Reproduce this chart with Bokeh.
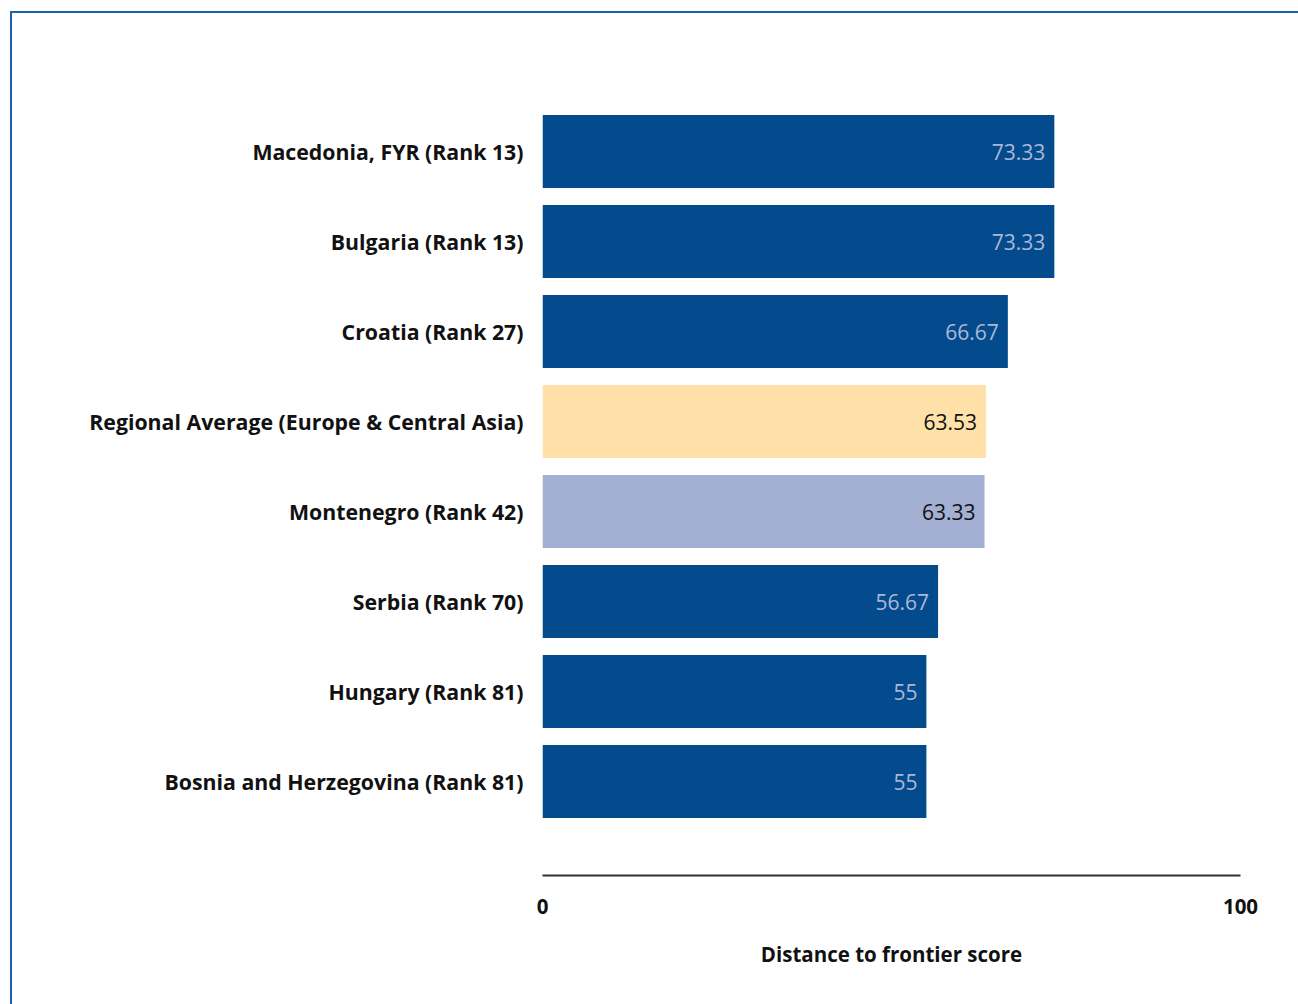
from bokeh.plotting import figure
from bokeh.models import Range1d, FixedTicker, ColumnDataSource
from bokeh.core.properties import value
from bokeh.embed import file_html
from bokeh.resources import INLINE

categories = [
    "Macedonia, FYR (Rank 13)",
    "Bulgaria (Rank 13)",
    "Croatia (Rank 27)",
    "Regional Average (Europe & Central Asia)",
    "Montenegro (Rank 42)",
    "Serbia (Rank 70)",
    "Hungary (Rank 81)",
    "Bosnia and Herzegovina (Rank 81)",
]
scores = [73.33, 73.33, 66.67, 63.53, 63.33, 56.67, 55, 55]
score_labels = ["73.33", "73.33", "66.67", "63.53", "63.33", "56.67", "55", "55"]
x_ticks = [0, 100]
x_title = "Distance to frontier score"

DARK = "#034b8c"
BORDER = "#1f5fa8"
bar_colors = [DARK, DARK, DARK, "#ffe0a8", "#a3b0d3", DARK, DARK, DARK]
label_colors = ["#aab8d8", "#aab8d8", "#aab8d8", "#111111", "#111111", "#aab8d8", "#aab8d8", "#aab8d8"]

n = len(categories)
ys = [n - i for i in range(n)]

src = ColumnDataSource(dict(y=ys, v=scores, lab=score_labels, c=bar_colors, lc=label_colors))

frame_css = (
    f"linear-gradient({BORDER},{BORDER}) 10px 11px / 1300px 2px no-repeat, "
    f"linear-gradient({BORDER},{BORDER}) 10px 11px / 2px 1000px no-repeat, white"
)

p = figure(width=1298, height=1004, output_backend="svg", toolbar_location=None,
           x_range=Range1d(0, 100), y_range=Range1d(-0.044, 8.5),
           min_border_left=542, min_border_right=58, min_border_top=106, min_border_bottom=129,
           styles={"background": frame_css})
p.outline_line_color = None
p.xgrid.visible = False
p.ygrid.visible = False
p.background_fill_color = None
p.border_fill_color = None

p.hbar(y="y", left=0, right="v", height=0.81, fill_color="c", line_color=None, source=src)
p.text(x="v", y="y", text="lab", text_color="lc", text_align="right", text_baseline="middle",
       x_offset=-9, text_font=value("Open Sans"), text_font_size="21px", source=src)

FONT = "Open Sans"
FS = "20.5px"
ya = p.yaxis[0]
ya.ticker = FixedTicker(ticks=ys)
ya.major_label_overrides = {y: c for y, c in zip(ys, categories)}
ya.axis_line_color = None
ya.major_tick_line_color = None
ya.minor_tick_line_color = None
ya.major_label_standoff = 13
ya.major_label_text_font = FONT
ya.major_label_text_font_style = "bold"
ya.major_label_text_font_size = "21.3px"
ya.major_label_text_color = "#111111"

xa = p.xaxis[0]
xa.ticker = FixedTicker(ticks=x_ticks)
xa.axis_line_color = "#333333"
xa.axis_line_width = 2
xa.major_tick_line_color = None
xa.minor_tick_line_color = None
xa.major_label_standoff = 17
xa.major_label_text_font = FONT
xa.major_label_text_font_style = "bold"
xa.major_label_text_font_size = FS
xa.major_label_text_color = "#111111"
xa.axis_label = x_title
xa.axis_label_standoff = 23
xa.axis_label_text_font = FONT
xa.axis_label_text_font_style = "bold"
xa.axis_label_text_font_size = FS
xa.axis_label_text_color = "#111111"

open("out.html", "w").write(file_html(p, INLINE))
